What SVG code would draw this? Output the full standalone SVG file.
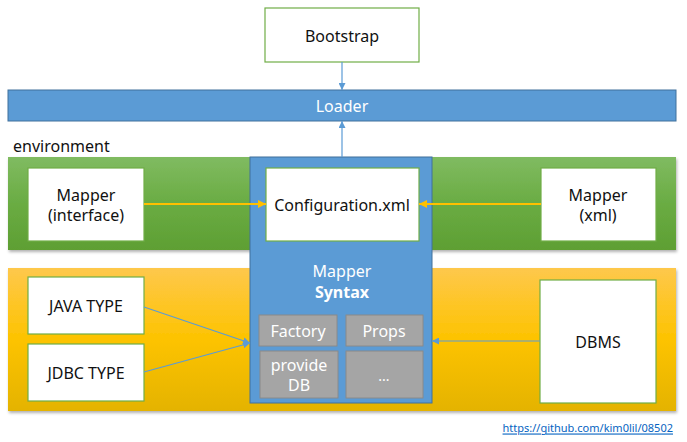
<svg xmlns="http://www.w3.org/2000/svg" width="687" height="442" viewBox="0 0 687 442">
<defs>
<linearGradient id="gGreen" x1="0" y1="0" x2="0" y2="1">
<stop offset="0" stop-color="#80bb61"/><stop offset="0.5" stop-color="#6aac43"/><stop offset="1" stop-color="#5e9f33"/>
</linearGradient>
<linearGradient id="gYellow" x1="0" y1="0" x2="0" y2="1">
<stop offset="0" stop-color="#fec84c"/><stop offset="0.5" stop-color="#fdc300"/><stop offset="1" stop-color="#e4b301"/>
</linearGradient>
<filter id="sh" x="-5%" y="-10%" width="110%" height="130%">
<feDropShadow dx="1" dy="2" stdDeviation="1.5" flood-color="#000" flood-opacity="0.3"/>
</filter>
<marker id="aBlue" viewBox="0 0 10 10" refX="10" refY="5" markerWidth="7" markerHeight="7" orient="auto" markerUnits="userSpaceOnUse">
<path d="M0,0 L10,5 L0,10 z" fill="#5b9bd5"/>
</marker>
<marker id="aOr" viewBox="0 0 10 10" refX="10" refY="5" markerWidth="8" markerHeight="8" orient="auto" markerUnits="userSpaceOnUse">
<path d="M0,0 L10,5 L0,10 z" fill="#ffc000"/>
</marker>
</defs>
<style>
text{font-family:"Noto Sans","Open Sans","DejaVu Sans",sans-serif;font-size:16px;text-anchor:middle;dominant-baseline:central;fill:#111}
.wb{fill:#fff;stroke:#70ad47;stroke-width:1.2}
.gray{fill:#a5a5a5;stroke:#8a8a8a;stroke-width:1}
.wt{fill:#fff}
.bl{stroke:#5b9bd5;stroke-width:1.2;fill:none;marker-end:url(#aBlue)}
.or{stroke:#ffc000;stroke-width:2;fill:none;marker-end:url(#aOr)}
</style>
<g id="env-band">
<rect x="8" y="157" width="668" height="93" fill="url(#gGreen)" filter="url(#sh)"/>
<text x="13" y="146" style="text-anchor:start">environment</text>
</g>
<g id="type-band">
<rect x="8" y="268" width="668" height="143" fill="url(#gYellow)" filter="url(#sh)"/>
</g>
<g id="bootstrap">
<rect class="wb" x="265" y="8" width="154" height="54"/>
<text x="342" y="36">Bootstrap</text>
</g>
<g id="loader">
<rect x="8" y="90" width="668" height="31" fill="#5b9bd5" stroke="#41719c" stroke-width="1"/>
<text class="wt" x="342" y="106">Loader</text>
</g>
<g id="mapper-syntax">
<rect x="250" y="157" width="182" height="246" fill="#5b9bd5" stroke="#41719c" stroke-width="1"/>
<text class="wt" x="342" y="271">Mapper</text>
<text class="wt" x="342" y="292" style="font-weight:bold">Syntax</text>
</g>
<g id="configuration">
<rect class="wb" x="266" y="168" width="153" height="73"/>
<text x="342" y="205">Configuration.xml</text>
</g>
<g id="factory">
<rect class="gray" x="259" y="315" width="78" height="31"/>
<text class="wt" x="298" y="331">Factory</text>
</g>
<g id="props">
<rect class="gray" x="346" y="315" width="77" height="31"/>
<text class="wt" x="384" y="331">Props</text>
</g>
<g id="provide-db">
<rect class="gray" x="260" y="351" width="78" height="47"/>
<text class="wt" x="299" y="365">provide</text>
<text class="wt" x="299" y="385">DB</text>
</g>
<g id="etc">
<rect class="gray" x="346" y="351" width="77" height="47"/>
<text class="wt" x="384" y="375" style="font-size:14px">...</text>
</g>
<g id="mapper-interface">
<rect class="wb" x="28" y="168" width="116" height="73"/>
<text x="86" y="195">Mapper</text>
<text x="86" y="215">(interface)</text>
</g>
<g id="mapper-xml">
<rect class="wb" x="541" y="168" width="115" height="73"/>
<text x="598" y="195">Mapper</text>
<text x="598" y="215">(xml)</text>
</g>
<g id="java-type">
<rect class="wb" x="28" y="277" width="116" height="57"/>
<text x="86" y="306">JAVA TYPE</text>
</g>
<g id="jdbc-type">
<rect class="wb" x="28" y="344" width="116" height="57"/>
<text x="86" y="373">JDBC TYPE</text>
</g>
<g id="dbms">
<rect class="wb" x="540" y="280" width="116" height="123"/>
<text x="598" y="342">DBMS</text>
</g>
<g id="connectors">
<line class="bl" x1="342" y1="62" x2="342" y2="90"/>
<line class="bl" x1="342" y1="157" x2="342" y2="121"/>
<line class="or" x1="144" y1="204" x2="266" y2="204"/>
<line class="or" x1="541" y1="204" x2="419" y2="204"/>
<line class="bl" x1="144" y1="307" x2="250" y2="343"/>
<line class="bl" x1="144" y1="372" x2="250" y2="343"/>
<line class="bl" x1="540" y1="341" x2="432" y2="341"/>
</g>
<g id="url">
<text x="673" y="427" style="text-anchor:end;font-size:11px;fill:#0563c1;text-decoration:underline">https://github.com/kim0lil/08502</text>
</g>
</svg>
